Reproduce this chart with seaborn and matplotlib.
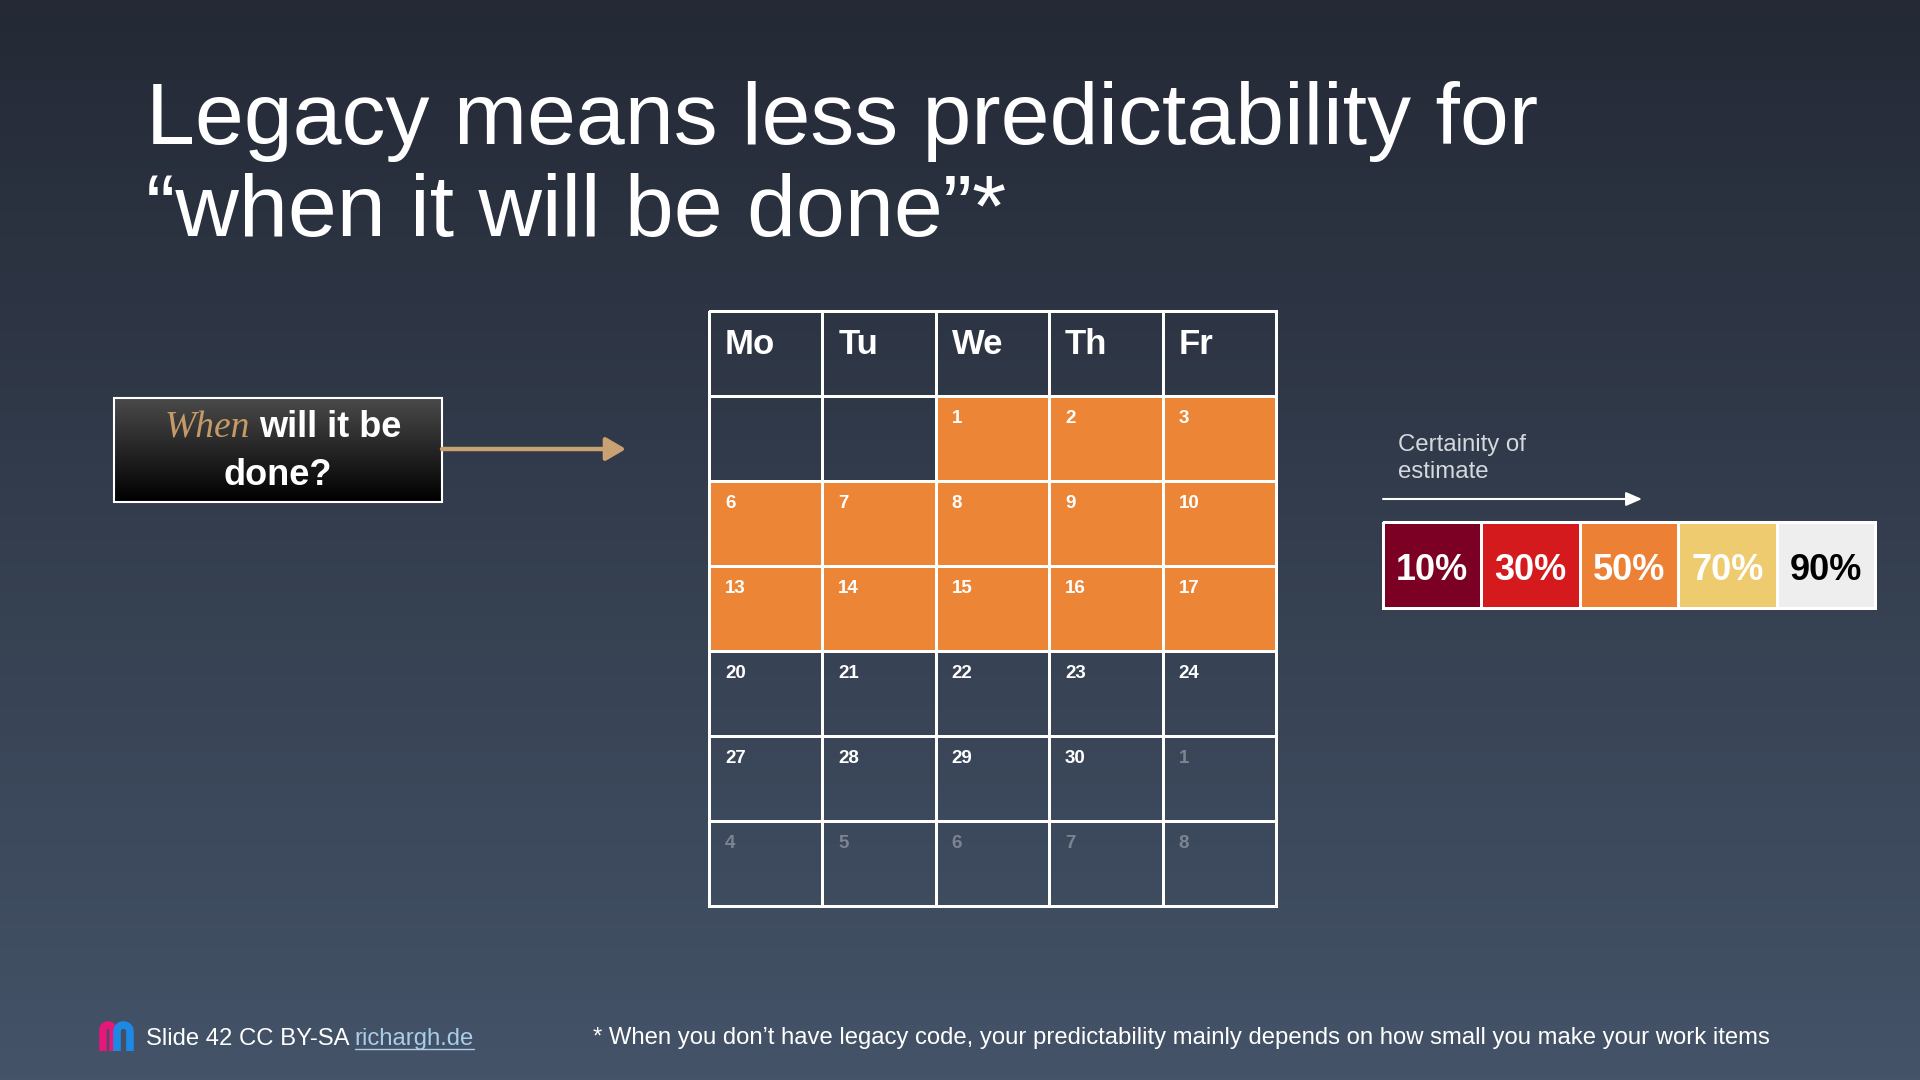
import numpy as np
import matplotlib
matplotlib.use("Agg")
import matplotlib.pyplot as plt
import seaborn as sns
from matplotlib.colors import ListedColormap, LinearSegmentedColormap
from matplotlib.patches import Rectangle

# --- chart content ---
title_lines = ["Legacy means less predictability for",
               "\u201cwhen it will be done\u201d*"]
weekdays = ["Mo", "Tu", "We", "Th", "Fr"]
weeks = [
    [None, None, 1, 2, 3],
    [6, 7, 8, 9, 10],
    [13, 14, 15, 16, 17],
    [20, 21, 22, 23, 24],
    [27, 28, 29, 30, 1],
    [4, 5, 6, 7, 8],
]
# 1 = day inside the estimated window (orange)
estimate = [
    [0, 0, 1, 1, 1],
    [1, 1, 1, 1, 1],
    [1, 1, 1, 1, 1],
    [0, 0, 0, 0, 0],
    [0, 0, 0, 0, 0],
    [0, 0, 0, 0, 0],
]
# 1 = day of the following month (greyed out)
next_month = [
    [0, 0, 0, 0, 0],
    [0, 0, 0, 0, 0],
    [0, 0, 0, 0, 0],
    [0, 0, 0, 0, 0],
    [0, 0, 0, 0, 1],
    [1, 1, 1, 1, 1],
]
certainty_labels = ["10%", "30%", "50%", "70%", "90%"]
certainty_colors = ["#7b0023", "#d51a1e", "#ec8035", "#efcb6f", "#eeeeee"]
certainty_text = ["white", "white", "white", "white", "black"]
footer = "Slide 42 CC BY-SA "
footer_link = "richargh.de"
footnote = ("* When you don\u2019t have legacy code, your predictability mainly "
            "depends on how small you make your work items")

ORANGE = "#ed8537"
TAN = "#c9a172"

sns.set_theme(style="white")
plt.rcParams["font.family"] = ["Liberation Sans", "DejaVu Sans"]

W, H = 1920, 1080
fig = plt.figure(figsize=(19.2, 10.8), dpi=100)

# background in pixel coordinates
bg = fig.add_axes([0, 0, 1, 1])
grad = np.linspace(0, 1, 256)[:, None]
bg.imshow(grad, cmap=LinearSegmentedColormap.from_list("bg", ["#242935", "#445368"]),
          aspect="auto", extent=(0, W, H, 0))

# title
bg.text(146, 144, title_lines[0], fontsize=63.3, color="white", va="baseline")
bg.text(146, 236, title_lines[1], fontsize=63.3, color="white", va="baseline")

# question box
bg.imshow(grad, cmap=LinearSegmentedColormap.from_list("box", ["#4a4a4a", "#000000"]),
          aspect="auto", extent=(114, 442, 502, 398), zorder=2)
bg.add_patch(Rectangle((114, 398), 328, 104, fill=False, ec="white", lw=1.5, zorder=3))
bg.text(250, 437, "When", ha="right", va="baseline", color="#c49a66", fontsize=27,
        family="Liberation Serif", style="italic", zorder=4)
bg.text(259, 437, "will it be", ha="left", va="baseline", color="white",
        fontsize=26, weight="bold", zorder=4)
bg.text(278, 485, "done?", ha="center", va="baseline", color="white",
        fontsize=26, weight="bold", zorder=4)
bg.annotate("", xy=(626, 449), xytext=(442, 449),
            arrowprops=dict(arrowstyle="-|>,head_length=0.6,head_width=0.35",
                            color=TAN, lw=3.2, shrinkA=0, shrinkB=0,
                            mutation_scale=20))

# certainty caption and arrow
bg.text(1398, 451, "Certainity of", fontsize=17.3, color="#d5d9de", va="baseline")
bg.text(1398, 478, "estimate", fontsize=17.3, color="#d5d9de", va="baseline")
bg.annotate("", xy=(1642, 499), xytext=(1383, 499),
            arrowprops=dict(arrowstyle="-|>,head_length=0.8,head_width=0.35",
                            color="white", lw=1.5, shrinkA=0, shrinkB=0,
                            mutation_scale=12))


# footer logo: two overlapping arches
def arch(x0, x1, ytop, ybot, color):
    r = (x1 - x0) / 2
    cx = x0 + r
    th = np.linspace(np.pi, 0, 40)
    xs = np.concatenate([[x0], cx + r * np.cos(th), [x1]])
    ys = np.concatenate([[ybot], ytop + r - r * np.sin(th), [ybot]])
    bg.plot(xs, ys, color=color, lw=5.5, solid_capstyle="butt", solid_joinstyle="round")


arch(103, 113, 1025, 1051, "#e5177b")
arch(117, 130, 1025, 1051, "#1e88e5")

ft = bg.text(146, 1045, footer, fontsize=17.2, color="white", va="baseline")
fn = bg.text(593, 1044, footnote, fontsize=17.2, color="white", va="baseline")

bg.set_xlim(0, W)
bg.set_ylim(H, 0)
bg.axis("off")

fig.canvas.draw()
inv = bg.transData.inverted()
fb = ft.get_window_extent()
x_link = inv.transform((fb.x1, fb.y0))[0]
lk = bg.text(x_link, 1045, footer_link, fontsize=17.2, color="#a9cce8", va="baseline")
fig.canvas.draw()
lb = lk.get_window_extent()
lx0 = inv.transform((lb.x0, lb.y0))[0]
lx1 = inv.transform((lb.x1, lb.y0))[0]
bg.plot([lx0, lx1], [1049, 1049], color="#a9cce8", lw=1)
bg.set_xlim(0, W)
bg.set_ylim(H, 0)

# calendar
cal = fig.add_axes([709 / W, 1 - 906 / H, 567 / W, 595 / H])
cal_matrix = np.vstack([np.zeros((1, 5)), np.array(estimate)])
sns.heatmap(cal_matrix, ax=cal, cmap=ListedColormap([(0, 0, 0, 0), ORANGE]),
            vmin=0, vmax=1, cbar=False, linewidths=2, linecolor="white",
            xticklabels=False, yticklabels=False)
cal.collections[0].set_clip_on(False)
cal.patch.set_alpha(0)
for j, d in enumerate(weekdays):
    cal.text(j + 0.14, 0.2, d, ha="left", va="top", fontsize=25,
             weight="bold", color="white")
for i, row in enumerate(weeks):
    for j, d in enumerate(row):
        if d is None:
            continue
        col = "#7c8490" if next_month[i][j] else "white"
        cal.text(j + 0.14, i + 1.16, str(d), ha="left", va="top",
                 fontsize=13.5, weight="bold", color=col)

# certainty legend
leg = fig.add_axes([1383 / W, 1 - 608 / H, 492 / W, 86 / H])
sns.heatmap(np.arange(5)[None, :], ax=leg, cmap=ListedColormap(certainty_colors),
            vmin=-0.5, vmax=4.5, annot=np.array([certainty_labels]), fmt="",
            annot_kws={"fontsize": 26, "fontweight": "bold"}, cbar=False,
            linewidths=2, linecolor="white", xticklabels=False, yticklabels=False)
for t, c in zip(leg.texts, certainty_text):
    t.set_color(c)
    t.set_y(t.get_position()[1] + 0.06)
leg.collections[0].set_clip_on(False)

fig.savefig("out.png", dpi=100)
